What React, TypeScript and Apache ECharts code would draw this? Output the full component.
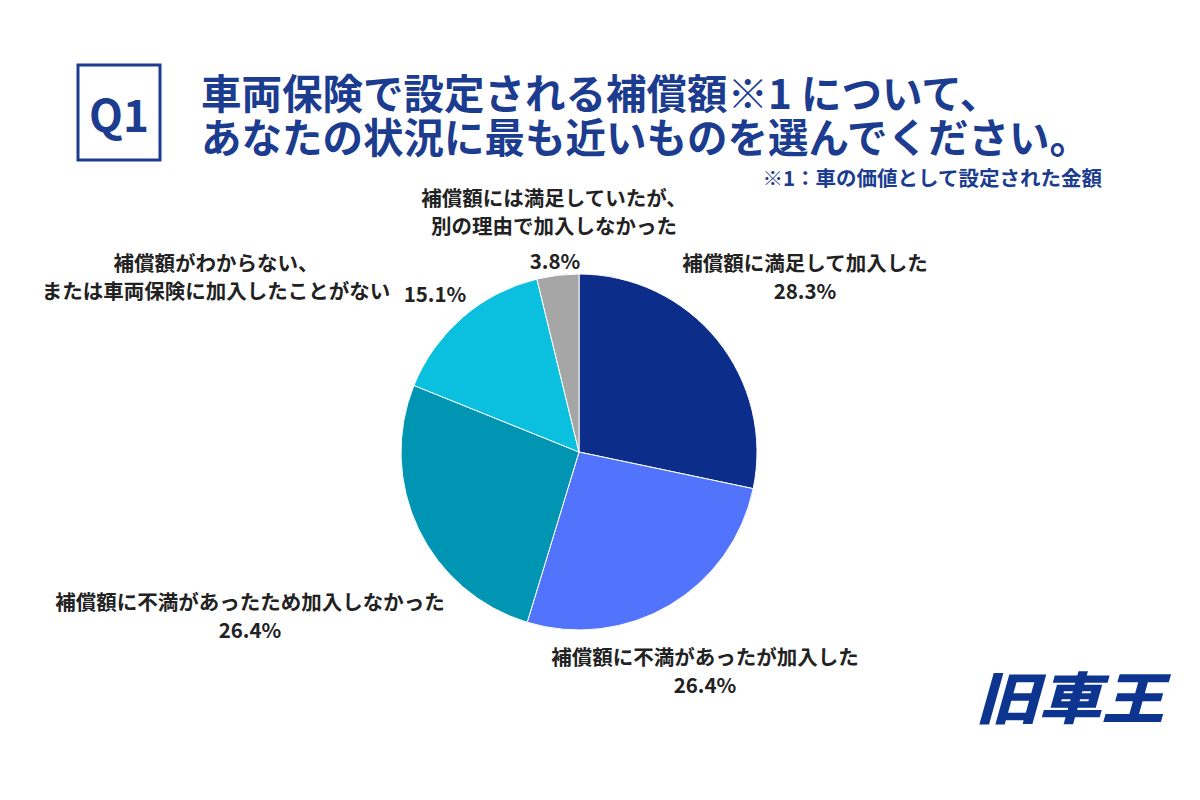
import React, { useEffect, useRef } from "react";
import * as echarts from "echarts";

const names = [
  "補償額に満足して加入した",
  "補償額に不満があったが加入した",
  "補償額に不満があったため加入しなかった",
  "補償額がわからない、\nまたは車両保険に加入したことがない",
  "補償額には満足していたが、\n別の理由で加入しなかった",
];
const values = [28.3, 26.4, 26.4, 15.1, 3.8];
const colors = ["#0c2d8a", "#5273fb", "#0096b3", "#0bbfdf", "#a6a6a6"];

const titleLines = [
  "車両保険で設定される補償額※1 について、",
  "あなたの状況に最も近いものを選んでください。",
];
const footnote = "※1：車の価値として設定された金額";

// label layout: [x, y, combined(1)/separate(0), pctX, pctY]
const labelPos: number[][] = [
  [805, 276, 1, 0, 0],
  [705, 670, 1, 0, 0],
  [250, 615, 1, 0, 0],
  [216, 276, 0, 435, 293],
  [554, 211, 0, 555, 260],
];

const FONT = '"Noto Sans CJK JP", "Noto Sans", sans-serif';
const NAVY = "#1b3c8f";

export default function App() {
  const ref = useRef<HTMLDivElement>(null);
  useEffect(() => {
    if (!ref.current) return;
    const chart = echarts.init(ref.current, null, { renderer: "svg" });
    const labelEls: any[] = [];
    names.forEach((n, i) => {
      const p = labelPos[i];
      const pct = values[i].toFixed(1) + "%";
      const common = {
        fill: "#222",
        font: `bold 20.5px ${FONT}`,
        textAlign: "center",
        textVerticalAlign: "middle",
        lineHeight: 28.5,
      };
      if (p[2] === 1) {
        labelEls.push({
          type: "text",
          x: p[0],
          y: p[1],
          style: { ...common, text: n + "\n" + pct },
        });
      } else {
        labelEls.push({
          type: "text",
          x: p[0],
          y: p[1],
          style: { ...common, text: n },
        });
        labelEls.push({
          type: "text",
          x: p[3],
          y: p[4],
          style: { ...common, text: pct },
        });
      }
    });
    chart.setOption({
      animation: false,
      backgroundColor: "#ffffff",
      series: [
        {
          type: "pie",
          center: [579, 452],
          radius: [0, 178],
          startAngle: 90,
          clockwise: true,
          label: { show: false },
          labelLine: { show: false },
          itemStyle: { borderColor: "#ffffff", borderWidth: 1 },
          emphasis: { disabled: true },
          data: values.map((v, i) => ({
            value: v,
            name: names[i],
            itemStyle: { color: colors[i] },
          })),
        },
      ],
      graphic: [
        {
          type: "rect",
          shape: { x: 78, y: 65, width: 82, height: 95 },
          style: { fill: "none", stroke: NAVY, lineWidth: 3 },
        },
        {
          type: "text",
          x: 119,
          y: 113,
          style: {
            text: "Q1",
            fill: NAVY,
            font: `bold 44px ${FONT}`,
            textAlign: "center",
            textVerticalAlign: "middle",
          },
        },
        {
          type: "text",
          x: 201,
          y: 113,
          style: {
            text: titleLines.join("\n"),
            fill: NAVY,
            font: `bold 40.5px ${FONT}`,
            textAlign: "left",
            textVerticalAlign: "middle",
            lineHeight: 44,
          },
        },
        {
          type: "text",
          x: 1102,
          y: 177,
          style: {
            text: footnote,
            fill: NAVY,
            font: `bold 20.5px ${FONT}`,
            textAlign: "right",
            textVerticalAlign: "middle",
          },
        },
        ...labelEls,
        {
          type: "text",
          x: 976,
          y: 695,
          scaleX: 1.12,
          style: {
            text: "旧車王",
            fill: "#0d3590",
            font: `italic 900 56px ${FONT}`,
            textAlign: "left",
            textVerticalAlign: "middle",
          },
        },
      ],
    });
    return () => chart.dispose();
  }, []);
  return (
    <div
      ref={ref}
      style={{ position: "fixed", left: 0, top: 0, width: 1200, height: 800 }}
    />
  );
}
